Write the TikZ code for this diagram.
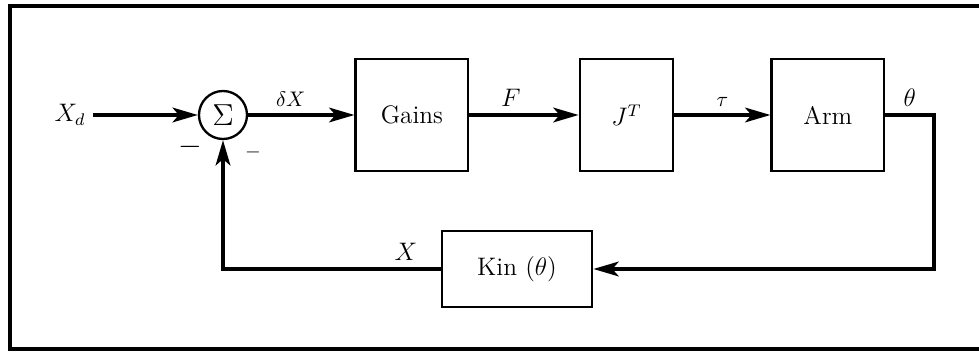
\documentclass[tikz,border=0pt]{standalone}
\usepackage{amsmath}
\usepackage{tikz}
\usetikzlibrary{arrows.meta,positioning,calc}

\begin{document}
\begin{tikzpicture}[
    x=0.016667cm, y=0.016667cm,
    font=\large,
    block/.style={rectangle, draw=black, line width=1.3pt, text centered, minimum width=1.87cm, minimum height=1.87cm},
    sumnode/.style={circle, draw=black, line width=1.1pt, minimum size=0.8cm, inner sep=0pt, font=\Large},
    arrow/.style={-{Stealth[length=12pt,width=7pt,inset=3pt]}, line width=1.5pt},
    frame/.style={line width=1.6pt}
]
    \useasboundingbox (0,0) rectangle (979,353);

    \node[sumnode] (sum) at (223,238) {$\Sigma$};
    \node (xd) at (70,238) {$X_d$};
    \node[block, right=1.77cm of sum] (gains) {Gains};
    \node[block, minimum width=1.55cm, right=1.82cm of gains] (jt) {$J^{T}$};
    \node[block, right=1.6cm of jt] (arm) {Arm};
    \node[block, minimum width=2.5cm, minimum height=1.27cm] (kin) at (517,84) {Kin $(\theta)$};
    \coordinate (turn) at (934,238);

    \node[scale=1.2] (minusa) at (190,206) {$-$};
    \node[scale=0.8] (minusb) at (253,201) {$-$};

    \draw[arrow] (xd) -- (sum);
    \draw[arrow] (sum) -- node[above, pos=0.4, font=\normalsize] {$\delta X$} (gains);
    \draw[arrow] (gains) -- node[above, pos=0.38] {$F$} (jt);
    \draw[arrow] (jt) -- node[above, font=\normalsize] {$\tau$} (arm);
    \draw[arrow] (arm) -- node[above] {$\theta$} (turn) |- (kin);
    \draw[arrow] (kin) -| node[above, pos=0.08] {$X$} (sum);

    % outer frame, open on the right
    \draw[frame] (979,347) -- (10,347) -- (10,4) -- (979,4);
\end{tikzpicture}
\end{document}
